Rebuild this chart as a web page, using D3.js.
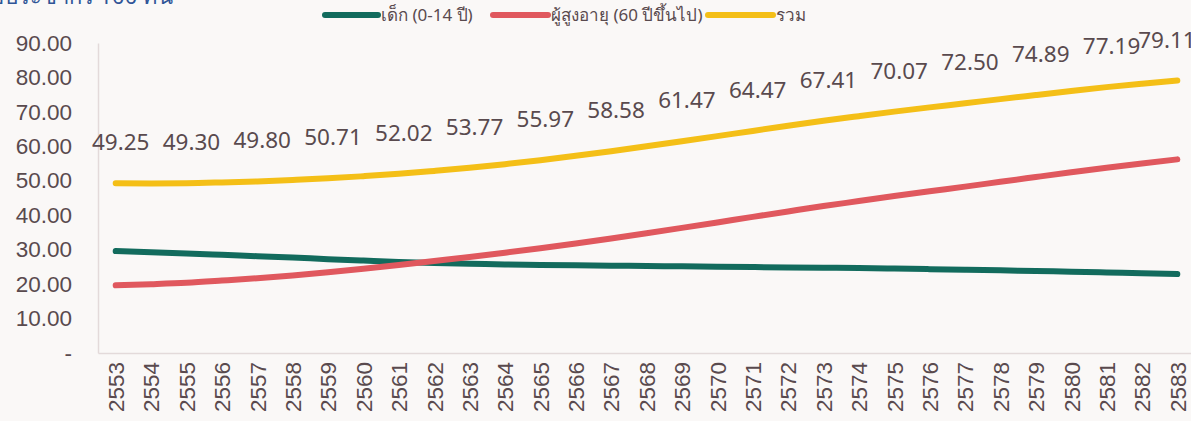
<!DOCTYPE html>
<html>
<head>
<meta charset="utf-8">
<script src="https://cdn.jsdelivr.net/npm/d3@7"></script>
<style>
  html, body { margin: 0; padding: 0; background: #faf8f7; }
  svg { display: block; font-family: "Noto Sans", "Open Sans", sans-serif; }
  .axis_text { fill: #594a4e; font-size: 22.5px; }
  .legend_text { fill: #594a4e; }
</style>
</head>
<body>
<figure id="chart" style="margin:0"></figure>
<script>
// years (Buddhist era)
var years = d3.range(2553, 2584).map(String);

// เด็ก (0-14 ปี)
var childValues = [29.60, 29.25, 28.90, 28.50, 28.10, 27.70, 27.25, 26.85, 26.45, 26.15,
    25.90, 25.70, 25.55, 25.45, 25.35, 25.25, 25.15, 25.05, 24.95, 24.85,
    24.75, 24.65, 24.50, 24.35, 24.20, 24.00, 23.80, 23.60, 23.40, 23.15, 22.90];

// ผู้สูงอายุ (60 ปีขึ้นไป)
var elderlyValues = [19.65, 19.99, 20.40, 21.02, 21.70, 22.52, 23.46, 24.48, 25.57, 26.71,
    27.87, 29.13, 30.42, 31.79, 33.23, 34.75, 36.32, 37.91, 39.52, 41.10,
    42.66, 44.11, 45.57, 46.96, 48.30, 49.71, 51.09, 52.46, 53.79, 55.03, 56.21];

// รวม
var totalValues = [49.25, 49.24, 49.30, 49.52, 49.80, 50.22, 50.71, 51.33, 52.02, 52.86,
    53.77, 54.83, 55.97, 57.24, 58.58, 60.00, 61.47, 62.96, 64.47, 65.95,
    67.41, 68.76, 70.07, 71.31, 72.50, 73.71, 74.89, 76.06, 77.19, 78.18, 79.11];

var yTicks = [0, 10, 20, 30, 40, 50, 60, 70, 80, 90];

var series = [
    {name: "เด็ก (0-14 ปี)", values: childValues, color: "#126b5d"},
    {name: "ผู้สูงอายุ (60 ปีขึ้นไป)", values: elderlyValues, color: "#e0585e"},
    {name: "รวม", values: totalValues, color: "#f4bf17"}
];

let dimensions = {
    width: 1191,
    height: 421,
    margin: {top: 43, right: -4, bottom: 68, left: 98}
};
dimensions.boundedWidth = dimensions.width - dimensions.margin.left - dimensions.margin.right;
dimensions.boundedHeight = dimensions.height - dimensions.margin.top - dimensions.margin.bottom;

var root = d3.select("figure#chart")
    .append("svg")
    .attr("width", dimensions.width)
    .attr("height", dimensions.height);

// title, cropped at the very top like the source picture
root.append("text")
    .attr("x", 173)
    .attr("y", 4)
    .attr("text-anchor", "end")
    .attr("fill", "#2f5597")
    .style("font-size", "22px")
    .text("ต่อประชากร 100 คน");

var svg = root.append("g")
    .attr("transform", `translate(${dimensions.margin.left},${dimensions.margin.top})`);

var xScale = d3.scalePoint()
    .domain(years)
    .range([0, dimensions.boundedWidth])
    .padding(0.5);

var yScale = d3.scaleLinear()
    .domain([0, 90])
    .range([dimensions.boundedHeight, 0]);

// axes
var yAxis = svg.append("g")
    .call(d3.axisLeft(yScale).tickValues(yTicks).tickSize(0).tickPadding(26)
        .tickFormat(d => d === 0 ? "-" : d.toFixed(2)));
yAxis.select(".domain").attr("stroke", "#e3dada").attr("stroke-width", 1.5);
yAxis.selectAll("text").attr("class", "axis_text");

var xAxis = svg.append("g")
    .attr("transform", `translate(0,${dimensions.boundedHeight})`)
    .call(d3.axisBottom(xScale).tickSize(0).tickPadding(0));
xAxis.select(".domain").attr("stroke", "#e3dada").attr("stroke-width", 1.5);
xAxis.selectAll("text")
    .attr("class", "axis_text")
    .attr("text-anchor", "end")
    .attr("transform", "rotate(-90)")
    .attr("x", -9)
    .attr("y", 0)
    .attr("dy", "0.35em");

// lines
var line = d3.line()
    .x((d, i) => xScale(years[i]))
    .y(d => yScale(d))
    .curve(d3.curveMonotoneX);

svg.selectAll("path.series")
    .data(series)
    .enter()
    .append("path")
    .attr("class", "series")
    .attr("d", d => line(d.values))
    .attr("fill", "none")
    .attr("stroke", d => d.color)
    .attr("stroke-width", 6)
    .attr("stroke-linecap", "round");

// labels on the total line, every other year
var labelData = totalValues.map((v, i) => ({v: v, i: i})).filter(d => d.i % 2 === 0);
svg.selectAll("text.label")
    .data(labelData)
    .enter()
    .append("text")
    .attr("class", "label axis_text")
    .attr("text-anchor", "middle")
    .attr("x", d => Math.min(xScale(years[d.i]) + 5, 1069))
    .attr("y", d => yScale(d.v) - 33)
    .text(d => d.v.toFixed(2));

// legend
var legend = root.append("g").attr("transform", "translate(325,15)");
var legendX = [0, 168, 383];
var legendW = [53, 55, 65];
series.forEach(function(s, k) {
    var g = legend.append("g").attr("transform", `translate(${legendX[k]},0)`);
    g.append("line")
        .attr("x1", 0).attr("x2", legendW[k])
        .attr("y1", 0).attr("y2", 0)
        .attr("stroke", s.color)
        .attr("stroke-width", 6)
        .attr("stroke-linecap", "round");
    g.append("text")
        .attr("class", "legend_text")
        .attr("x", legendW[k] + 3)
        .attr("y", 0)
        .attr("dy", "0.35em")
        .style("font-size", "17px")
        .text(s.name);
});
</script>
</body>
</html>
